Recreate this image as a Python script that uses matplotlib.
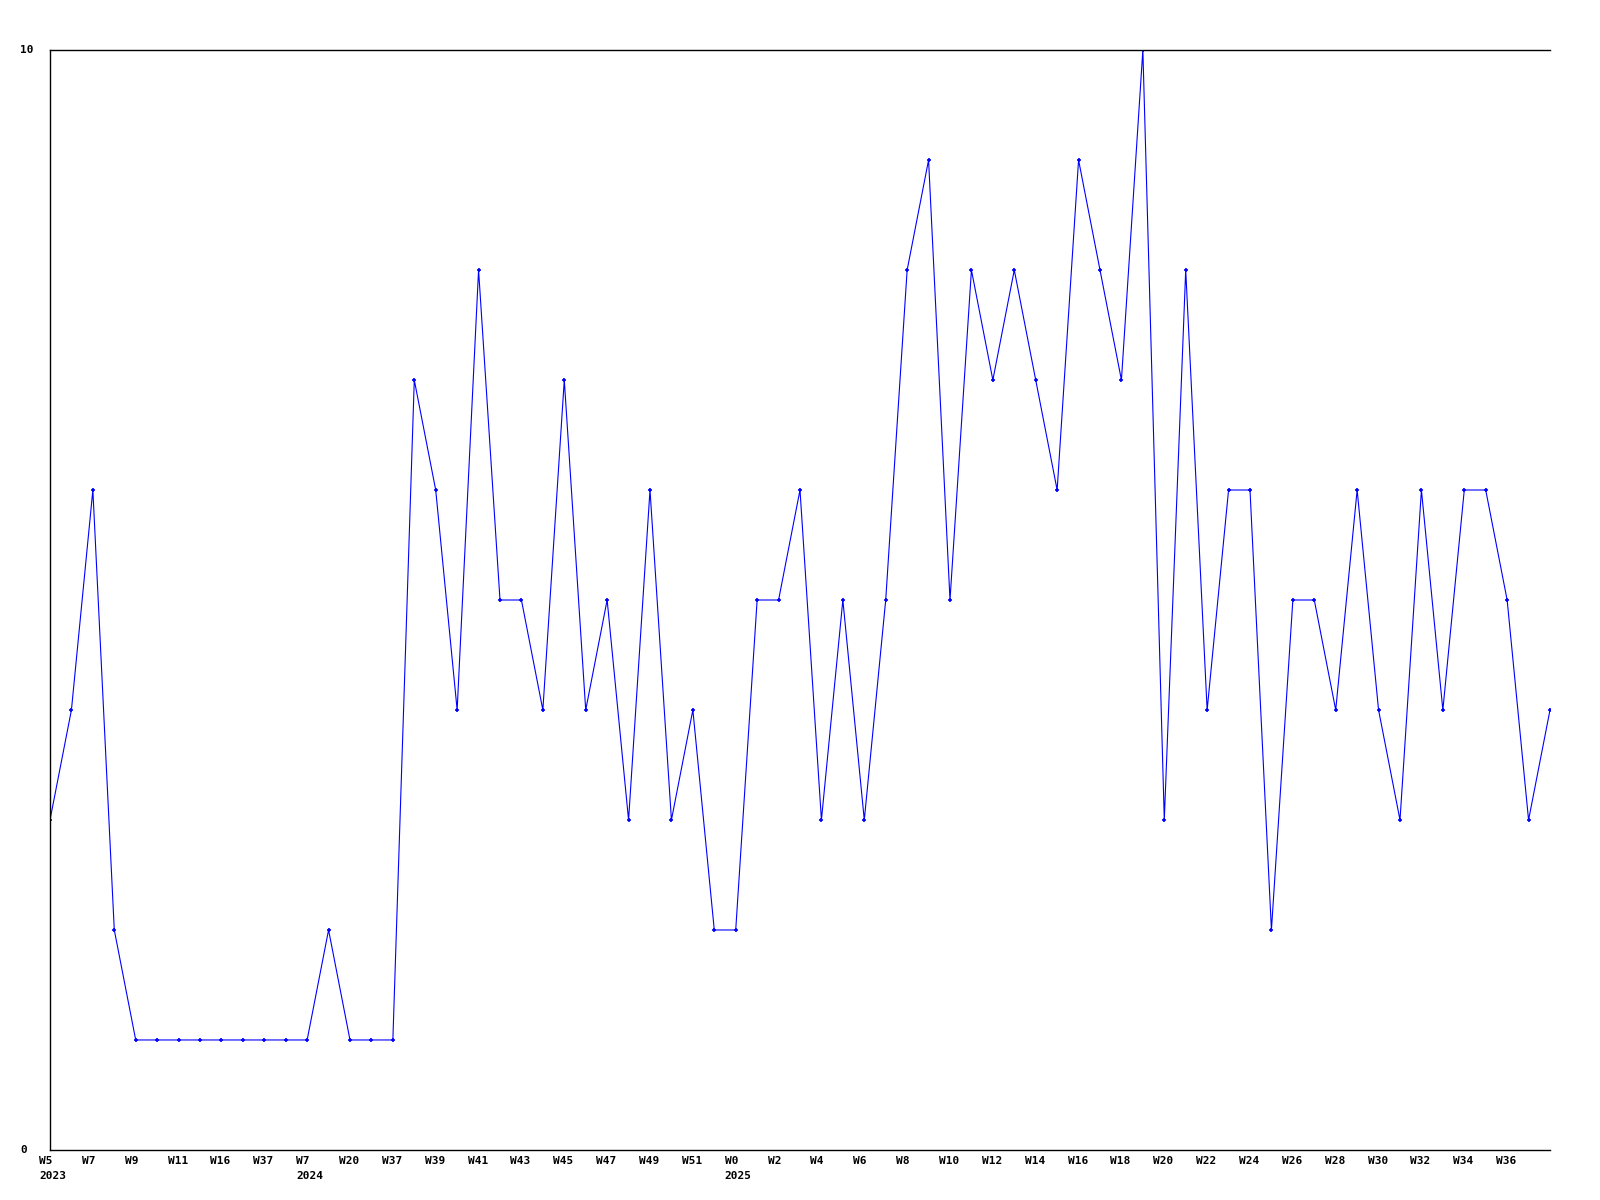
import matplotlib
matplotlib.use('Agg')
import matplotlib.pyplot as plt

# weekly counts
values = [3, 4, 6, 2, 1, 1, 1, 1, 1, 1, 1, 1, 1, 2, 1, 1, 1, 7, 6, 4,
          8, 5, 5, 4, 7, 4, 5, 3, 6, 3, 4, 2, 2, 5, 5, 6, 3, 5, 3, 5,
          8, 9, 5, 8, 7, 8, 7, 6, 9, 8, 7, 10, 3, 8, 4, 6, 6, 2, 5, 5,
          4, 6, 4, 3, 6, 4, 6, 6, 5, 3, 4]

# labels on every second point
week_labels = ['W5', 'W7', 'W9', 'W11', 'W16', 'W37', 'W7', 'W20', 'W37',
               'W39', 'W41', 'W43', 'W45', 'W47', 'W49', 'W51', 'W0', 'W2',
               'W4', 'W6', 'W8', 'W10', 'W12', 'W14', 'W16', 'W18', 'W20',
               'W22', 'W24', 'W26', 'W28', 'W30', 'W32', 'W34', 'W36']
year_labels = {0: '2023', 6: '2024', 16: '2025'}

font = dict(family='DejaVu Sans Mono', weight='bold', size=8)

fig = plt.figure(figsize=(16, 12), dpi=100)
ax = fig.add_axes([0.03125, 0.0417, 0.9375, 0.9166])

x = list(range(len(values)))
ax.plot(x, values, color='#0000ff', lw=0.8, marker='+', ms=3, mew=1.2)
ax.set_xlim(0, len(values) - 1)
ax.set_ylim(0, 10)

ax.spines['right'].set_visible(False)
for s in ['left', 'top', 'bottom']:
    ax.spines[s].set_linewidth(1)
ax.set_xticks([])
ax.set_yticks([])

for k, lab in enumerate(week_labels):
    i = 2 * k
    txt = lab
    if k in year_labels:
        txt = lab + '\n' + year_labels[k]
    ax.annotate(txt, xy=(i, 0), xycoords=('data', 'axes fraction'),
                xytext=(-11, -6), textcoords='offset pixels',
                ha='left', va='top', linespacing=1.6, **font)

fig.text(20 / 1600, 1 - 50 / 1200, '10', ha='left', va='center', **font)
fig.text(20 / 1600, 1 - 1150 / 1200, '0', ha='left', va='center', **font)

fig.savefig('out.png', dpi=100, facecolor='white')
